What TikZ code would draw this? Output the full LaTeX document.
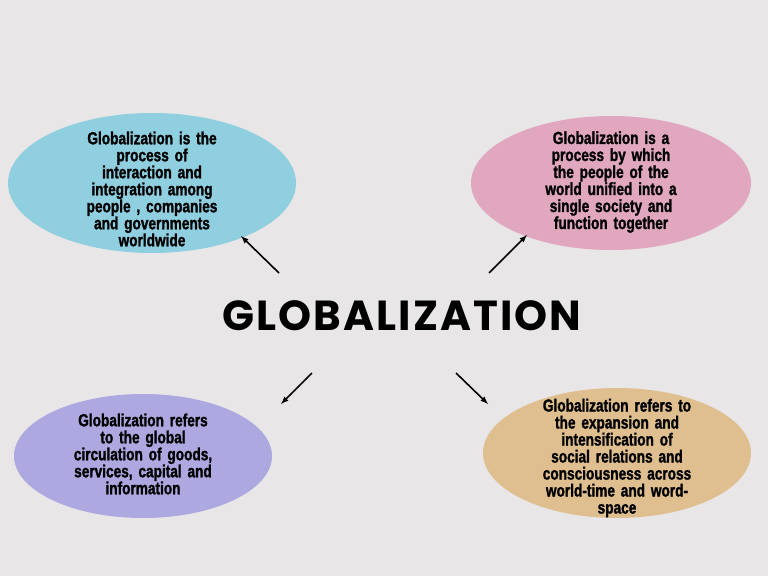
\documentclass[tikz,border=0pt]{standalone}
\usepackage{fontspec}
\setmainfont{Liberation Sans}[FakeStretch=0.78, BoldFeatures={FakeBold=1.4}]
\newfontfamily\titlefont{Poppins}[LetterSpace=5]
\usetikzlibrary{arrows}
\definecolor{bggray}{HTML}{E8E6E7}
\definecolor{skyblue}{HTML}{8FCFE0}
\definecolor{rosepink}{HTML}{E0A7BF}
\definecolor{lavender}{HTML}{ADA8E0}
\definecolor{sand}{HTML}{DFBF8F}
\tikzset{
    blurb/.style={
        inner sep=0pt, text=black,
        align=center, text width=170pt,
        font=\fontsize{17.5}{17}\selectfont\bfseries
    },
    connect/.style={-latex, line width=1.6pt}
}

\begin{document}
\begin{tikzpicture}[x=1pt,y=-1pt]

	\fill[bggray] (0,0) rectangle (768,576);
	\useasboundingbox (0,0) rectangle (768,576);

	% the four bubbles
	\fill[skyblue]  (152,183) ellipse [x radius=144, y radius=70];
	\fill[rosepink] (611,183) ellipse [x radius=140, y radius=67];
	\fill[lavender] (143,456) ellipse [x radius=129, y radius=62];
	\fill[sand]     (617,453) ellipse [x radius=134, y radius=65];

	\node[blurb] (blue) at (152,189) {Globalization is the\\process of\\interaction and\\integration among\\people , companies\\and governments\\worldwide};
	\node[blurb] (pink) at (611,182) {Globalization is a\\process by which\\the people of the\\world unified into a\\single society and\\function together};
	\node[blurb] (purple) at (143,454) {Globalization refers\\to the global\\circulation of goods,\\services, capital and\\information};
	\node[blurb] (tan) at (617,458) {Globalization refers to\\the expansion and\\intensification of\\social relations and\\consciousness across\\world-time and word-\\space};

	\node (title) at (402,316) {\titlefont\bfseries\fontsize{42}{42}\selectfont GLOBALIZATION};

	% arrows
	\coordinate (s1) at (279,273); \coordinate (e1) at (241,236);
	\coordinate (s2) at (489,273); \coordinate (e2) at (527,235);
	\coordinate (s3) at (312,373); \coordinate (e3) at (281,404);
	\coordinate (s4) at (456,373); \coordinate (e4) at (488,404);
	\draw[connect] (s1) -- (e1);
	\draw[connect] (s2) -- (e2);
	\draw[connect] (s3) -- (e3);
	\draw[connect] (s4) -- (e4);
\end{tikzpicture}
\end{document}
